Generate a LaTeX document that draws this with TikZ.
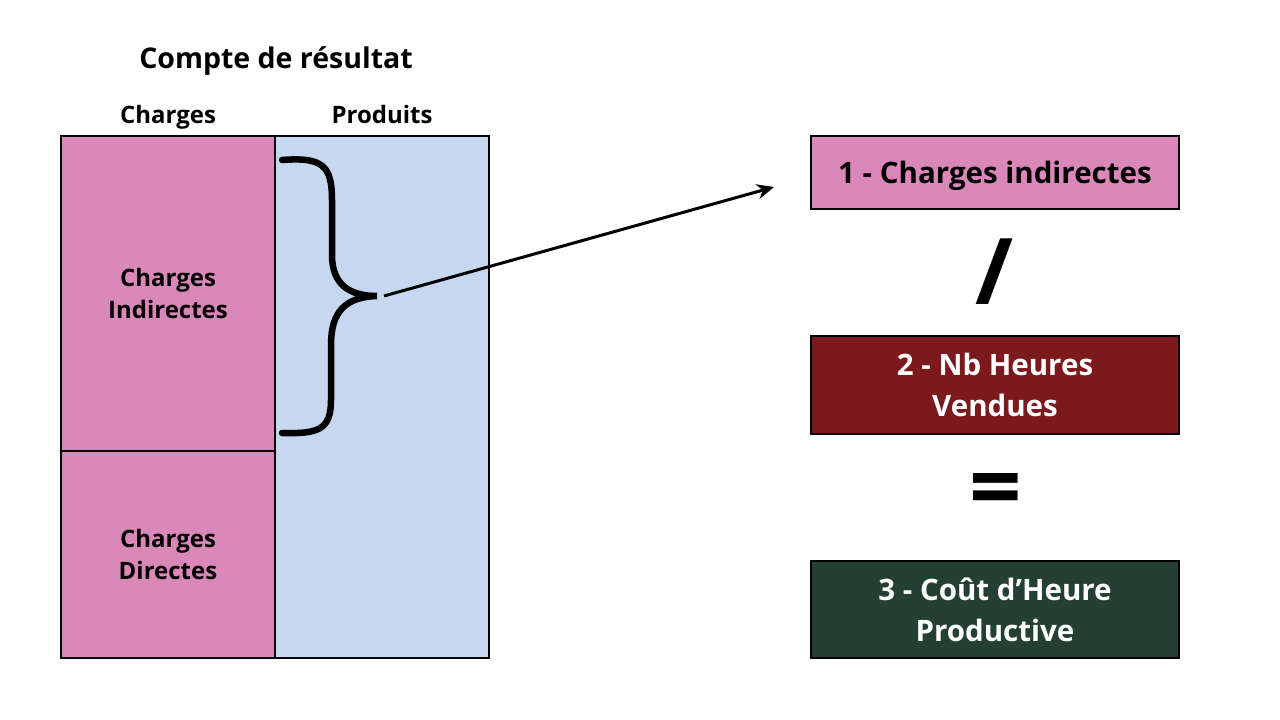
\documentclass[tikz,border=0pt]{standalone}
\usepackage{fontspec}
\setmainfont{Open Sans}
\usetikzlibrary{arrows.meta}

\definecolor{chargepink}{HTML}{DA88B9}
\definecolor{produitblue}{HTML}{C5D8EF}
\definecolor{heuresred}{HTML}{7B191C}
\definecolor{coutgreen}{HTML}{244033}

\tikzset{
  bloc/.style={draw=black, line width=1.2pt, minimum width=214pt, inner sep=0pt, align=center,
    font=\fontsize{24}{32}\selectfont\bfseries},
  etape/.style={draw=black, line width=1.2pt, minimum width=368pt, inner sep=0pt, align=center,
    font=\fontsize{29.5}{41}\selectfont\bfseries},
  entete/.style={anchor=base, font=\fontsize{24}{28}\selectfont\bfseries},
  signe/.style={font=\fontsize{92}{92}\selectfont\bfseries, inner sep=0pt}
}

\begin{document}
\begin{tikzpicture}[x=1pt,y=-1pt]
\useasboundingbox (0,0) rectangle (1280,720);

\node[font=\fontsize{28.5}{32}\selectfont\bfseries] (titre) at (276,61) {Compte de résultat};
\node[entete] (charges) at (168,123) {Charges};
\node[entete] (produits) at (382,123) {Produits};

\node[bloc, fill=produitblue, minimum height=522pt] (colprod) at (382,397) {};
\node[bloc, fill=chargepink, minimum height=315pt] (indir) at (168,293.5) {Charges\\Indirectes};
\node[bloc, fill=chargepink, minimum height=207pt] (dir) at (168,554.5) {Charges\\Directes};

% accolade
\draw[line width=6.5pt, line cap=round]
  (282,160) .. controls (322,157) and (332,165) .. (332,200) -- (332,255)
  .. controls (332,285) and (350,296) .. (377,296)
  .. controls (345,297) and (331,312) .. (331,345) -- (331,400)
  .. controls (331,430) and (318,434) .. (282,433);
\coordinate (pointe) at (384,296);
\coordinate (fin) at (774,187);
\draw[line width=3pt, -{Stealth[length=17pt,width=15pt]}] (pointe) -- (fin);

\node[etape, fill=chargepink, minimum height=73pt, text depth=0pt] (e1) at (995,172.5) {1 - Charges indirectes};
\node[signe] (divise) at (994,272) {/};
\node[etape, fill=heuresred, text=white, minimum height=98pt] (e2) at (995,385) {2 - Nb Heures\\Vendues};
\node[signe] (egal) at (996,496) {=};
\node[etape, fill=coutgreen, text=white, minimum height=97pt] (e3) at (995,609.5) {3 - Coût d’Heure\\Productive};
\end{tikzpicture}
\end{document}
